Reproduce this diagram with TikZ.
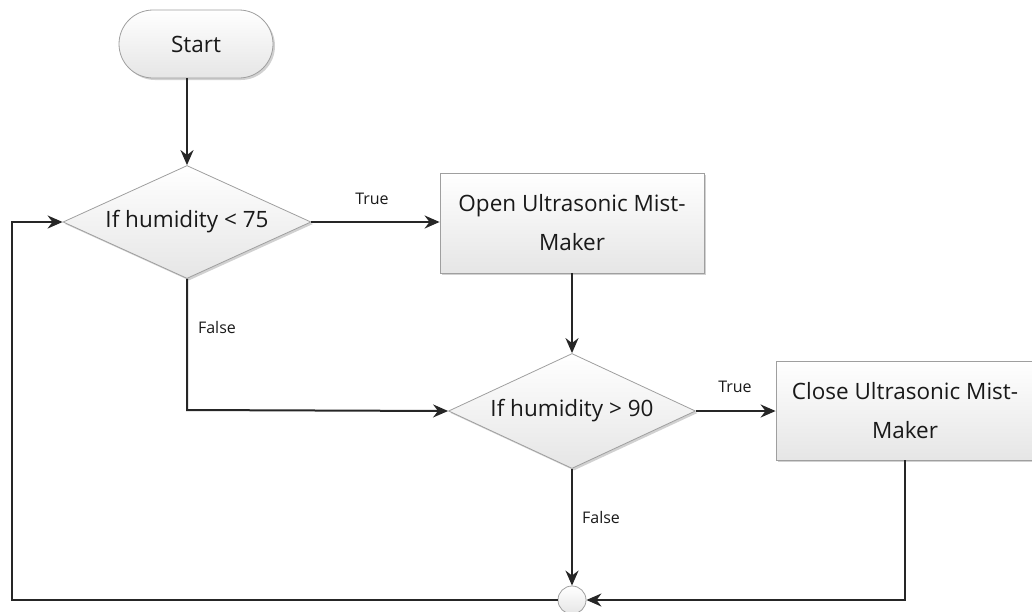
\documentclass[tikz,border=0pt]{standalone}
\usepackage{fontspec}
\setmainfont{Open Sans}
\usetikzlibrary{shapes.geometric,shadows,arrows.meta}
\begin{document}
\begin{tikzpicture}[x=1pt,y=-1pt,
  shapebase/.style={draw=gray!75,line width=0.8pt,top color=white,bottom color=gray!20,
    drop shadow={shadow xshift=2pt,shadow yshift=-2pt,fill=gray!60,opacity=0.6},
    font=\fontsize{22.5}{39}\selectfont,text=black!90,inner sep=0pt},
  termbox/.style={shapebase,rounded corners=34pt,minimum width=154pt,minimum height=68pt},
  decbox/.style={shapebase,diamond,aspect=2.2},
  procbox/.style={shapebase,rectangle,align=center},
  joinbox/.style={draw=gray!75,line width=0.8pt,circle,top color=white,bottom color=gray!20,minimum size=28pt,inner sep=0pt},
  conn/.style={draw=black!85,line width=2pt},
  arr/.style={conn,-{Stealth[length=15pt,width=13pt]}},
  lbl/.style={font=\fontsize{16}{18}\selectfont,text=black!90,inner sep=0pt}]
\useasboundingbox (0,0) rectangle (1032,611);
\node[termbox] (start) at (196,44) {Start};
\node[decbox,minimum width=248pt,minimum height=113pt] (d1) at (187,222) {If humidity < 75};
\node[procbox,minimum width=264pt,minimum height=100pt] (b1) at (572,223) {Open Ultrasonic Mist-\\Maker};
\node[decbox,minimum width=247pt,minimum height=115pt] (d2) at (572,411) {If humidity > 90};
\node[procbox,minimum width=258pt,minimum height=99pt] (b2) at (905,410.5) {Close Ultrasonic Mist-\\Maker};
\node[joinbox] (j) at (572,600) {};
\coordinate (cl) at (12,600);
\coordinate (cr) at (905,600);
\coordinate (cf) at (187,410);
\draw[arr] (d1.north |- start.south) -- (d1.north);
\draw[arr] (d1.east) -- (b1.west |- d1.east);
\draw[arr] (d1.south) -- (cf) -- (d2.west);
\draw[arr] (b1.south) -- (d2.north);
\draw[arr] (d2.east) -- (b2.west |- d2.east);
\draw[arr] (d2.south) -- (j.north);
\draw[arr] (b2.south) -- (cr) -- (j.east);
\draw[arr] (j.west) -- (cl) -- (cl |- d1.west) -- (d1.west);
\node[lbl] (t1) at (372,199) {True};
\node[lbl] (f1) at (217,327) {False};
\node[lbl] (t2) at (735,387) {True};
\node[lbl] (f2) at (601,517) {False};
\end{tikzpicture}
\end{document}
